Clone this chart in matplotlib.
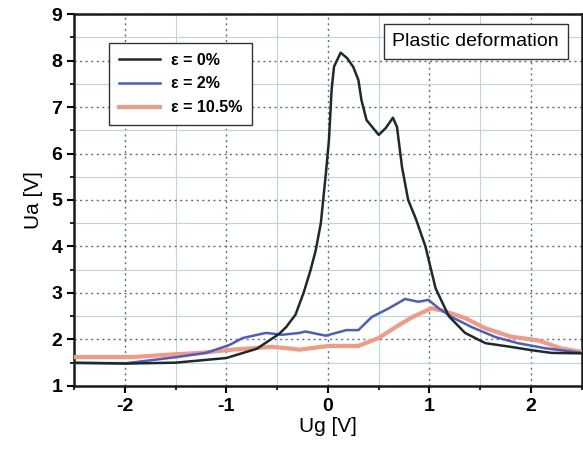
import numpy as np
import matplotlib.pyplot as plt
from matplotlib.ticker import MultipleLocator

plt.rcParams['font.family'] = ['Liberation Sans', 'DejaVu Sans']
plt.rcParams['axes.unicode_minus'] = False

# Ua(Ug) curves for three strain levels
ug_0 = [-2.5, -2.0, -1.5, -1.0, -0.7, -0.48, -0.41, -0.32, -0.24, -0.17, -0.12, -0.07,
        -0.02, 0.01, 0.036, 0.06, 0.125, 0.19, 0.25, 0.30, 0.33, 0.38, 0.5, 0.57, 0.64,
        0.68, 0.73, 0.79, 0.87, 0.96, 1.06, 1.19, 1.35, 1.55, 1.80, 2.0, 2.2, 2.5]
ua_0 = [1.5, 1.48, 1.5, 1.6, 1.8, 2.12, 2.27, 2.53, 3.0, 3.5, 3.92, 4.5,
        5.58, 6.29, 7.37, 7.87, 8.17, 8.05, 7.86, 7.58, 7.15, 6.72, 6.4, 6.55, 6.77,
        6.57, 5.7, 5.0, 4.57, 4.0, 3.1, 2.5, 2.14, 1.92, 1.84, 1.77, 1.71, 1.7]

ug_2 = [-2.5, -1.98, -1.49, -1.2, -0.97, -0.84, -0.61, -0.45, -0.28, -0.22, -0.02, 0.18,
        0.3, 0.43, 0.6, 0.76, 0.89, 0.99, 1.09, 1.22, 1.41, 1.65, 1.87, 2.14, 2.5]
ua_2 = [1.49, 1.49, 1.62, 1.71, 1.88, 2.03, 2.14, 2.1, 2.14, 2.17, 2.08, 2.2,
        2.2, 2.48, 2.67, 2.87, 2.81, 2.85, 2.67, 2.48, 2.27, 2.05, 1.92, 1.81, 1.71]

ug_105 = [-2.5, -1.92, -1.59, -1.26, -0.94, -0.55, -0.4, -0.28, 0.01, 0.3, 0.5, 0.67,
          0.83, 1.02, 1.16, 1.35, 1.55, 1.8, 2.07, 2.29, 2.5]
ua_105 = [1.62, 1.62, 1.67, 1.71, 1.78, 1.84, 1.81, 1.78, 1.86, 1.86, 2.03, 2.27,
          2.48, 2.67, 2.6, 2.46, 2.24, 2.06, 1.98, 1.81, 1.73]

labels = ['ε = 0%', 'ε = 2%', 'ε = 10.5%']

fig = plt.figure(figsize=(5.83, 4.54), dpi=100)
ax = fig.add_axes([0.127, 0.150, 0.871, 0.819])

ax.plot(ug_105, ua_105, color='#f29a82', lw=3.0, label=labels[2], zorder=3)
ax.plot(ug_2, ua_2, color='#4b5cc4', lw=1.8, label=labels[1], zorder=4)
ax.plot(ug_0, ua_0, color='#1c2a2c', lw=1.8, label=labels[0], zorder=5)

ax.set_xlim(-2.5, 2.5)
ax.set_ylim(1, 9)
ax.xaxis.set_major_locator(MultipleLocator(1))
ax.xaxis.set_minor_locator(MultipleLocator(0.5))
ax.yaxis.set_major_locator(MultipleLocator(1))
ax.yaxis.set_minor_locator(MultipleLocator(0.5))

ax.grid(which='major', color='#5a6e80', ls=(0, (1.5, 2.5)), lw=1.0)
ax.grid(which='minor', color='#b8d4e6', ls='-', lw=0.8)
ax.set_axisbelow(True)

ax.tick_params(which='major', direction='out', length=5, width=1.5, labelsize=14)
ax.tick_params(which='minor', direction='out', length=3, width=1.2)
for lab in ax.get_xticklabels() + ax.get_yticklabels():
    lab.set_fontweight('bold')
for sp in ax.spines.values():
    sp.set_linewidth(1.8)
    sp.set_color('#1a1a1a')

ax.set_xlabel('Ug [V]', fontsize=15, labelpad=2)
ax.set_ylabel('Ua [V]', fontsize=15, labelpad=6)

h, l = ax.get_legend_handles_labels()
leg = ax.legend(h[::-1], l[::-1], loc='upper left', bbox_to_anchor=(0.069, 0.922),
                borderaxespad=0, prop={'weight': 'bold', 'size': 11.5}, fancybox=False,
                edgecolor='#333333', framealpha=1, handlelength=2.6,
                borderpad=0.6, labelspacing=0.55, handletextpad=0.7)
leg.get_frame().set_linewidth(1.0)

ax.text(0.955, 0.926, 'Plastic deformation', transform=ax.transAxes, ha='right', va='center',
        fontsize=14, bbox=dict(boxstyle='square,pad=0.45', fc='white', ec='#333333', lw=1.0))

fig.savefig('out.png', dpi=100)
